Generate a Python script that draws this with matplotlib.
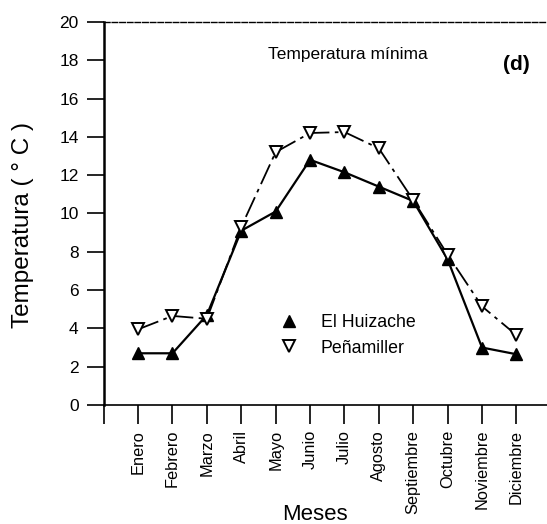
import matplotlib
matplotlib.use("Agg")
import matplotlib.pyplot as plt

plt.rcParams['font.family'] = ['Liberation Sans', 'DejaVu Sans']

meses = ["Enero", "Febrero", "Marzo", "Abril", "Mayo", "Junio", "Julio",
         "Agosto", "Septiembre", "Octubre", "Noviembre", "Diciembre"]
huizache = [2.7, 2.7, 4.7, 9.1, 10.1, 12.8, 12.15, 11.4, 10.65, 7.6, 3.0, 2.65]
penamiller = [3.95, 4.65, 4.5, 9.3, 13.2, 14.2, 14.25, 13.4, 10.7, 7.85, 5.15, 3.65]
y_ticks = [0, 2, 4, 6, 8, 10, 12, 14, 16, 18, 20]

x = list(range(1, len(meses) + 1))

fig = plt.figure(figsize=(5.47, 5.24), dpi=100)
ax = fig.add_axes([0.1896, 0.2271, 0.8104, 0.7311])

ax.plot(x, huizache, color='black', linewidth=1.6, linestyle='-',
        marker='^', markersize=8, markerfacecolor='black',
        markeredgecolor='black', label='El Huizache', zorder=3)
ax.plot(x, penamiller, color='black', linewidth=1.3, linestyle=(0, (12, 3, 2, 3)),
        marker='v', markersize=8, markerfacecolor='white',
        markeredgecolor='black', markeredgewidth=1.4, label='Peñamiller', zorder=4)

ax.set_xlim(0, 12.89)
ax.set_ylim(0, 20)
ax.set_yticks(y_ticks)
ax.set_xticks([0] + x)
ax.set_xticklabels([''] + meses, rotation=90, fontsize=11.8)
ax.tick_params(axis='y', direction='out', length=12, width=1.2, pad=6, labelsize=12.5)
ax.tick_params(axis='x', direction='out', length=14, width=1.2, pad=4)

ax.spines['right'].set_visible(False)
ax.spines['left'].set_linewidth(1.8)
ax.spines['bottom'].set_linewidth(1.2)
ax.spines['top'].set_linewidth(1.0)
ax.spines['top'].set_linestyle((0, (4, 1.5)))

ax.set_ylabel('Temperatura ( ° C )', fontsize=17.5)
ax.yaxis.set_label_coords(-0.158, 0.47)
fig.text(315 / 547, 1 - 514 / 524, 'Meses', fontsize=16, ha='center', va='center')

ax.text(7.1, 18.3, 'Temperatura mínima', fontsize=12.5, ha='center', va='center')
ax.text(12.0, 17.8, '(d)', fontsize=15, fontweight='bold', ha='center', va='center')

leg = ax.legend(loc='center', bbox_to_anchor=(0.55, 0.182), frameon=False,
                fontsize=12.8, handlelength=1.0, handletextpad=1.3, labelspacing=0.5)
for h in leg.legend_handles:
    h.set_linestyle('None')

fig.savefig('out.png', dpi=100)
